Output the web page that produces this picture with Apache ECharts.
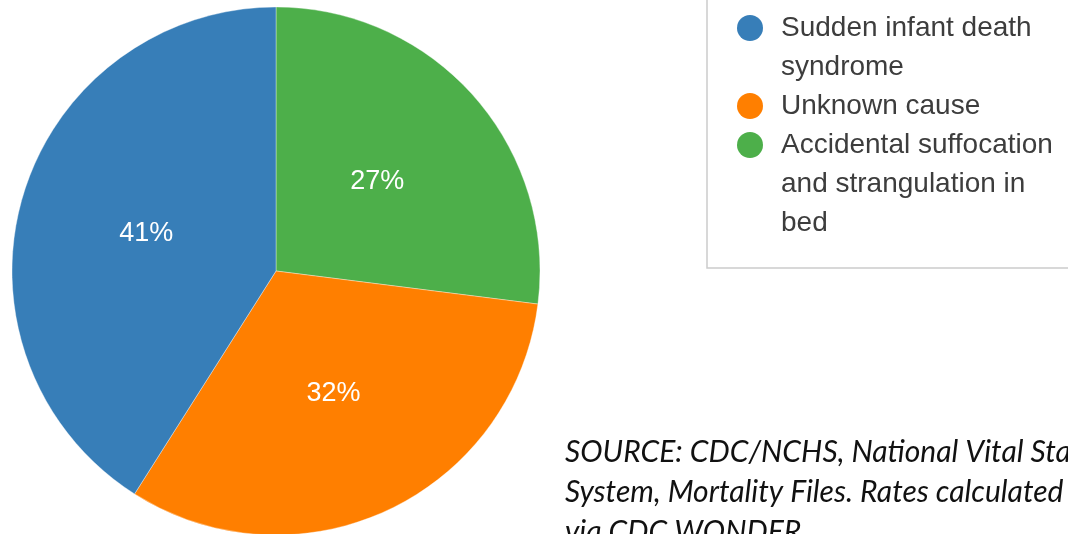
<!DOCTYPE html>
<html>
<head>
<meta charset="utf-8">
<style>
  html, body { margin: 0; padding: 0; background: #ffffff; }
  #chart { width: 1068px; height: 534px; }
</style>
<script src="https://cdn.jsdelivr.net/npm/echarts@6/dist/echarts.min.js"></script>
</head>
<body>
<div id="chart"></div>
<script>
// Causes of sudden unexpected infant death, share of total (%)
const categories = [
  'Accidental suffocation and strangulation in bed',
  'Unknown cause',
  'Sudden infant death syndrome'
];
const values = [27, 32, 41];
const colors = ['#4daf4a', '#ff7f00', '#377eb8'];

// Legend order and wrapped legend text
const legendOrder = [
  'Sudden infant death syndrome',
  'Unknown cause',
  'Accidental suffocation and strangulation in bed'
];
const legendLines = {
  'Sudden infant death syndrome': ['Sudden infant death', 'syndrome'],
  'Unknown cause': ['Unknown cause'],
  'Accidental suffocation and strangulation in bed': ['Accidental suffocation', 'and strangulation in', 'bed']
};

const sourceNote = 'SOURCE: CDC/NCHS, National Vital Statistics\nSystem, Mortality Files. Rates calculated\nvia CDC WONDER.';

const FONT = '"Liberation Sans", Arial, sans-serif';

// Rich styles: a coloured dot on the first line of each legend entry
const rich = {
  gap: { width: 26, height: 26 },
  sp: { width: 18 },
  t: { fontSize: 28, lineHeight: 39, color: '#3d3d3d', fontFamily: FONT }
};
categories.forEach(function (c, i) {
  rich['dot' + i] = {
    width: 26, height: 26, borderRadius: 13,
    backgroundColor: colors[i], verticalAlign: 'middle'
  };
});

const chart = echarts.init(document.getElementById('chart'), null, { renderer: 'canvas' });

chart.setOption({
  backgroundColor: '#ffffff',
  animation: false,
  color: colors,
  legend: {
    orient: 'vertical',
    left: 707,
    top: -30,
    padding: [38.5, 80, 25.5, 24],
    itemGap: 0,
    itemWidth: 0,
    itemHeight: 10,
    selectedMode: false,
    borderColor: '#cccccc',
    borderWidth: 1.5,
    data: legendOrder,
    textStyle: { fontSize: 28, fontFamily: FONT, color: '#3d3d3d', lineHeight: 39, rich: rich },
    formatter: function (name) {
      const i = categories.indexOf(name);
      return legendLines[name].map(function (line, k) {
        return (k === 0 ? '{dot' + i + '|}' : '{gap|}') + '{sp|}{t|' + line + '}';
      }).join('\n');
    }
  },
  series: [{
    type: 'pie',
    center: [276, 271],
    radius: 264,
    startAngle: 90,
    clockwise: true,
    avoidLabelOverlap: false,
    emphasis: { disabled: true },
    itemStyle: { borderColor: 'rgba(255,255,255,0.6)', borderWidth: 0.6 },
    label: {
      show: true,
      position: 'inside',
      formatter: '{c}%',
      color: '#ffffff',
      fontSize: 27,
      fontFamily: FONT
    },
    labelLine: { show: false },
    data: categories.map(function (c, i) {
      return { name: c, value: values[i] };
    })
  }],
  graphic: [{
    type: 'text',
    left: 565,
    top: 432,
    style: {
      text: sourceNote,
      font: 'italic 30px Lato, "Open Sans", sans-serif',
      lineHeight: 40,
      fill: '#111111'
    }
  }]
});
</script>
</body>
</html>
